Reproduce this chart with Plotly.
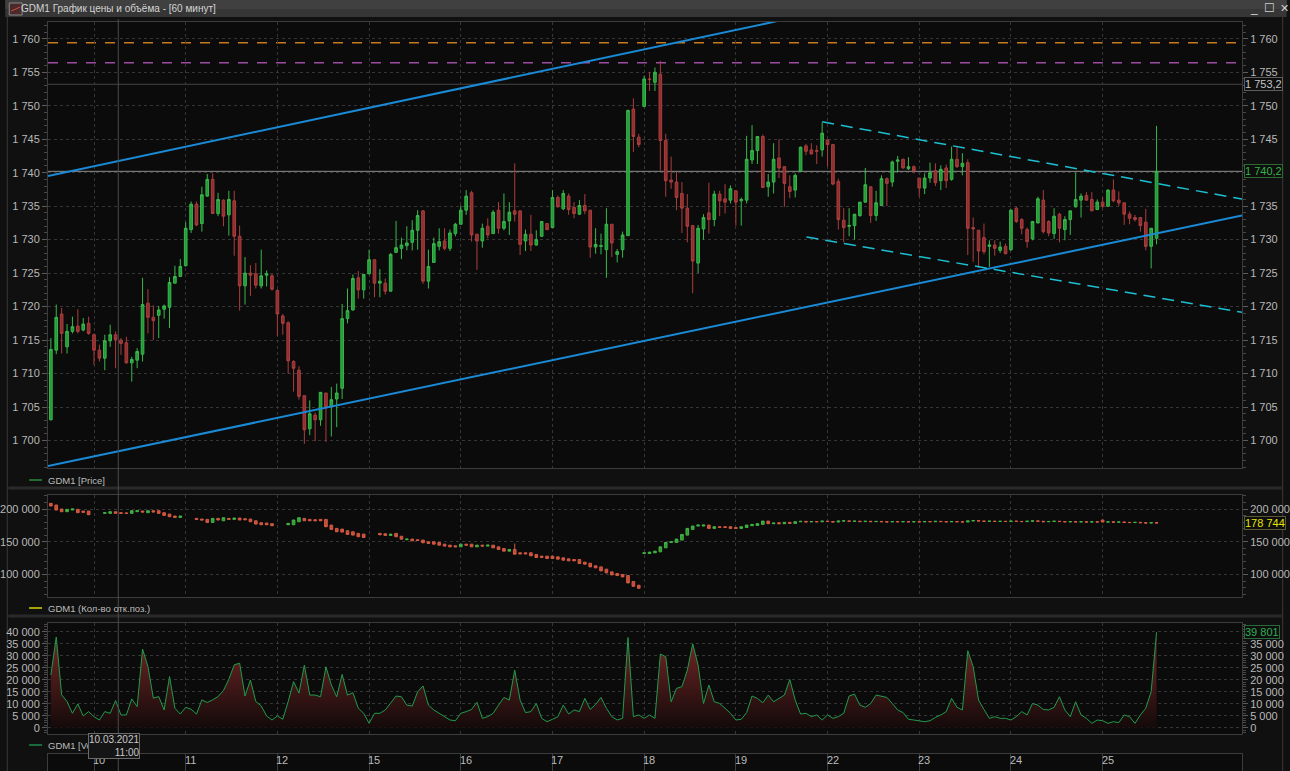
import plotly.graph_objects as go

# ======================= DATA =======================
# trading days shown (first one only partially visible) and hourly candles per day
day_labels = ["9", "10", "11", "12", "15", "16", "17", "18", "19", "22", "23", "24", "25"]
day_counts = [8, 17, 17, 17, 17, 17, 17, 17, 17, 17, 17, 17, 11]

price_open = [
    1703.1, 1713.5, 1718.9, 1714.0, 1716.3, 1717.1, 1716.5, 1717.5,
    1715.8, 1713.5, 1712.3, 1714.9, 1715.8, 1715.0, 1714.6, 1711.6, 1712.0, 1712.9, 1720.5, 1718.4, 1718.7, 1719.6, 1719.9, 1723.5, 1724.5,
    1726.1, 1731.5, 1735.3, 1732.4, 1736.5, 1739.0, 1733.9, 1735.9, 1733.7, 1735.8, 1730.5, 1723.1, 1725.0, 1724.9, 1723.1, 1724.7, 1724.6,
    1722.4, 1718.6, 1717.6, 1711.8, 1710.5, 1706.7, 1701.75, 1703.8, 1703.1, 1707.1, 1705.1, 1706.2, 1707.8, 1718.2, 1719.5, 1724.3, 1722.5,
    1724.9, 1727.0, 1723.5, 1723.5, 1722.3, 1728.1, 1728.7, 1729.1, 1729.6, 1731.4, 1734.3, 1723.8, 1726.6, 1729.0, 1729.8, 1728.7, 1730.9,
    1732.3, 1734.4, 1737.0, 1730.8, 1729.8, 1732.0, 1730.9, 1734.4, 1731.7, 1732.8, 1734.3, 1734.3, 1729.8, 1730.8, 1729.2, 1730.5, 1732.4,
    1731.8, 1736.3, 1734.6, 1736.5, 1734.8, 1733.8, 1735.1, 1734.4, 1728.9, 1729.0, 1728.5, 1732.3, 1727.8, 1728.5, 1730.6, 1749.5, 1745.3,
    1749.9, 1754.0, 1753.5, 1754.7, 1744.8, 1738.9, 1738.6, 1736.9, 1734.7, 1732.1, 1726.5, 1731.6, 1734.0, 1733.0, 1736.8, 1736.1, 1735.9,
    1737.3, 1735.8, 1735.9, 1741.9, 1743.3, 1745.4, 1737.9, 1738.6, 1742.2, 1740.9, 1737.9, 1737.4, 1740.2, 1744.0, 1743.4, 1743.3, 1743.4,
    1744.9, 1744.2, 1738.7, 1732.9, 1732.0, 1732.1, 1733.6, 1735.6, 1737.9, 1733.6, 1735.1, 1739.1, 1738.6, 1741.7, 1742.0, 1740.6, 1740.9,
    1739.2, 1737.7, 1739.2, 1740.3, 1738.8, 1740.7, 1739.0, 1742.0, 1740.9, 1741.5, 1731.8, 1731.4, 1730.3, 1729.0, 1729.2, 1728.4, 1729.0,
    1728.5, 1734.7, 1733.0, 1731.5, 1730.1, 1732.5, 1735.9, 1732.7, 1730.9, 1733.8, 1731.5, 1733.0, 1734.9, 1735.9, 1736.6, 1736.0, 1734.5,
    1735.6, 1735.0, 1737.4, 1735.9, 1735.5, 1733.8, 1733.3, 1733.3, 1732.6, 1729.0, 1730.2,
]
price_high = [
    1715.3, 1720.3, 1719.8, 1717.4, 1718.5, 1719.6, 1718.3, 1718.5,
    1716.0, 1714.3, 1715.8, 1717.3, 1716.3, 1715.3, 1715.5, 1712.5, 1713.8, 1724.3, 1722.6, 1720.2, 1720.1, 1720.3, 1724.4, 1726.1, 1727.1,
    1732.6, 1735.7, 1735.7, 1737.9, 1739.8, 1739.9, 1737.0, 1736.0, 1737.3, 1737.3, 1732.1, 1727.4, 1726.2, 1726.5, 1728.5, 1725.4, 1724.9,
    1722.6, 1718.9, 1717.8, 1712.0, 1711.1, 1706.7, 1706.0, 1704.2, 1707.2, 1707.1, 1708.0, 1708.5, 1720.4, 1722.7, 1724.8, 1725.3, 1724.9,
    1728.5, 1727.0, 1725.6, 1724.2, 1728.0, 1732.8, 1730.3, 1732.0, 1732.9, 1734.4, 1734.4, 1728.5, 1730.3, 1731.7, 1731.7, 1731.5, 1732.5,
    1735.1, 1737.4, 1737.3, 1730.9, 1732.4, 1733.2, 1734.4, 1735.6, 1736.9, 1735.6, 1741.4, 1734.3, 1731.5, 1733.7, 1731.4, 1732.8, 1732.5,
    1737.4, 1736.6, 1737.4, 1736.9, 1735.6, 1735.9, 1736.8, 1734.4, 1731.7, 1730.9, 1734.7, 1732.3, 1728.6, 1731.2, 1749.4, 1751.1, 1745.8,
    1754.5, 1755.0, 1755.7, 1756.7, 1745.8, 1742.4, 1740.1, 1738.6, 1736.8, 1732.1, 1732.2, 1733.8, 1738.5, 1737.3, 1737.3, 1738.3, 1738.1,
    1737.3, 1736.3, 1745.5, 1747.1, 1745.4, 1745.7, 1739.8, 1744.4, 1745.0, 1740.9, 1739.6, 1739.9, 1743.9, 1744.3, 1744.4, 1744.1, 1747.5,
    1744.9, 1744.3, 1739.1, 1734.7, 1734.7, 1733.8, 1735.6, 1740.7, 1737.9, 1737.3, 1739.6, 1739.3, 1741.8, 1742.5, 1742.1, 1742.3, 1741.1,
    1739.2, 1739.9, 1741.5, 1741.4, 1741.1, 1741.2, 1743.9, 1744.0, 1742.9, 1742.0, 1733.3, 1731.4, 1732.4, 1729.9, 1729.9, 1729.7, 1729.4,
    1734.5, 1734.9, 1733.2, 1731.8, 1732.8, 1736.4, 1737.4, 1732.9, 1734.7, 1734.0, 1733.5, 1734.3, 1740.0, 1736.9, 1737.1, 1737.1, 1736.0,
    1736.3, 1737.5, 1739.0, 1737.2, 1735.5, 1734.2, 1733.7, 1733.3, 1734.6, 1731.7, 1747.0,
]
price_low = [
    1703.0, 1712.9, 1713.0, 1713.0, 1716.0, 1716.0, 1716.3, 1715.8,
    1711.3, 1711.8, 1710.5, 1714.0, 1710.8, 1712.8, 1711.5, 1708.8, 1710.8, 1711.8, 1716.0, 1715.0, 1715.3, 1718.2, 1716.8, 1723.5, 1724.5,
    1726.0, 1731.0, 1732.0, 1731.2, 1736.4, 1733.9, 1733.5, 1732.0, 1730.6, 1727.6, 1719.4, 1720.3, 1721.6, 1722.7, 1722.7, 1723.0, 1722.4,
    1715.6, 1715.8, 1710.0, 1707.3, 1706.1, 1699.5, 1700.8, 1699.9, 1702.2, 1699.8, 1700.6, 1702.0, 1706.2, 1717.5, 1719.4, 1721.2, 1721.2,
    1724.8, 1721.4, 1721.4, 1721.8, 1722.3, 1728.0, 1727.1, 1728.4, 1728.4, 1728.5, 1723.4, 1722.7, 1726.6, 1728.4, 1728.4, 1728.3, 1730.5,
    1732.3, 1733.7, 1729.7, 1725.5, 1728.8, 1730.2, 1730.9, 1730.9, 1731.4, 1730.7, 1732.7, 1727.7, 1728.3, 1728.3, 1729.1, 1730.4, 1731.4,
    1731.8, 1734.8, 1734.4, 1733.7, 1733.2, 1733.7, 1733.8, 1727.3, 1727.9, 1727.8, 1724.3, 1727.4, 1726.6, 1727.3, 1730.6, 1743.1, 1743.8,
    1749.9, 1752.2, 1752.2, 1740.3, 1736.4, 1737.6, 1734.4, 1731.0, 1729.6, 1722.0, 1725.0, 1730.0, 1730.9, 1732.0, 1733.5, 1733.9, 1735.4,
    1732.1, 1732.1, 1735.4, 1741.3, 1741.3, 1737.7, 1736.4, 1736.9, 1739.2, 1734.9, 1736.2, 1736.3, 1740.2, 1742.6, 1742.7, 1741.3, 1742.4,
    1740.9, 1738.1, 1731.5, 1729.6, 1730.5, 1730.0, 1733.4, 1735.5, 1732.5, 1732.8, 1735.0, 1735.0, 1737.9, 1740.0, 1740.6, 1740.4, 1739.9,
    1736.4, 1736.8, 1738.5, 1738.0, 1737.4, 1737.7, 1738.8, 1740.7, 1739.6, 1727.7, 1726.7, 1725.8, 1727.8, 1725.9, 1727.6, 1728.0, 1727.8,
    1728.3, 1732.5, 1730.8, 1728.8, 1729.9, 1732.4, 1730.9, 1730.5, 1730.1, 1729.6, 1729.9, 1730.7, 1734.8, 1733.3, 1735.8, 1734.3, 1734.4,
    1734.7, 1734.9, 1735.6, 1735.0, 1732.2, 1732.3, 1732.7, 1731.2, 1728.4, 1725.7, 1729.3,
]
price_close = [
    1713.6, 1718.4, 1716.0, 1716.3, 1717.0, 1716.3, 1717.4, 1716.0,
    1713.5, 1712.3, 1714.9, 1715.8, 1715.1, 1714.5, 1711.6, 1712.1, 1713.3, 1720.3, 1718.4, 1717.9, 1719.5, 1720.1, 1723.6, 1724.5, 1726.0,
    1731.7, 1735.3, 1732.2, 1736.7, 1739.0, 1733.9, 1736.0, 1733.5, 1736.0, 1730.5, 1723.1, 1725.0, 1724.7, 1723.2, 1724.6, 1724.9, 1722.6,
    1718.9, 1717.5, 1711.9, 1710.8, 1706.6, 1701.6, 1704.0, 1703.1, 1707.2, 1705.0, 1706.1, 1707.1, 1718.2, 1719.4, 1724.2, 1722.5, 1724.8,
    1727.0, 1723.5, 1723.8, 1722.3, 1727.8, 1728.8, 1729.2, 1729.5, 1731.4, 1733.6, 1723.8, 1726.0, 1729.4, 1729.7, 1728.7, 1731.0, 1732.3,
    1734.4, 1736.5, 1730.7, 1729.8, 1731.7, 1730.7, 1734.1, 1731.7, 1732.7, 1734.1, 1733.8, 1729.3, 1730.8, 1729.2, 1730.0, 1732.7, 1731.5,
    1736.3, 1734.9, 1736.9, 1734.5, 1733.9, 1735.1, 1734.3, 1728.9, 1729.3, 1729.1, 1732.3, 1729.5, 1728.2, 1730.7, 1749.3, 1745.4, 1744.2,
    1754.0, 1753.9, 1755.0, 1744.8, 1738.8, 1738.6, 1736.3, 1734.7, 1732.0, 1726.8, 1731.7, 1733.3, 1733.0, 1736.8, 1735.8, 1735.6, 1737.6,
    1735.6, 1736.0, 1742.0, 1743.3, 1745.4, 1737.8, 1738.6, 1742.0, 1740.7, 1738.4, 1737.2, 1739.6, 1743.8, 1743.2, 1742.8, 1743.2, 1745.9,
    1744.2, 1738.3, 1733.0, 1731.8, 1732.1, 1733.8, 1735.6, 1738.2, 1733.6, 1735.5, 1739.1, 1738.4, 1741.6, 1741.9, 1740.7, 1740.9, 1740.3,
    1737.7, 1739.2, 1740.0, 1738.5, 1740.5, 1738.8, 1742.0, 1740.9, 1741.4, 1731.7, 1731.6, 1728.3, 1728.2, 1729.2, 1728.7, 1728.9, 1727.9,
    1734.4, 1732.7, 1731.7, 1729.7, 1732.7, 1736.1, 1731.2, 1731.0, 1733.5, 1731.7, 1733.0, 1734.3, 1736.0, 1736.5, 1735.9, 1734.3, 1735.6,
    1735.0, 1737.4, 1735.8, 1735.5, 1733.8, 1733.2, 1733.0, 1732.1, 1729.0, 1731.7, 1740.2,
]

# open interest (thousands of contracts); None = no value for that hour
oi_open_k = [
    208.7, 206.1, 200.0, 195.9, 198.5, 199.5, 196.9, 196.9,
    None, None, 193.4, 193.4, 195.9, 194.4, 194.0, 193.4, 196.0, 197.0, 194.4, 197.4, 197.4, 194.4, 192.3, 189.3, 187.2,
    None, None, 185.7, 184.7, 184.2, 179.6, 185.7, 182.1, 185.7, 184.2, 186.2, 185.2, 184.7, 182.1, 179.1, 178.6, 177.6,
    None, None, 176.0, 176.0, 180.6, 185.7, 184.2, 183.7, 184.2, 184.2, 175.5, 170.4, 169.4, 166.8, 165.3, 162.8, 161.7,
    None, None, 162.8, 162.2, 159.7, 162.8, 158.5, 153.1, 154.1, 153.1, 152.6, 150.0, 150.0, 149.0, 146.4, 144.9, 143.9,
    142.3, 146.4, 146.4, 142.3, 144.9, 143.4, 144.9, 142.3, 139.8, 135.7, 138.3, 133.2, 133.2, 133.2, 130.6, 128.1, 128.1,
    128.1, 127.0, 125.5, 124.0, 123.0, 123.0, 118.9, 117.3, 113.3, 111.7, 108.2, 104.1, 101.5, 100.0, 98.5, 89.3, 83.7,
    132.1, 132.1, 133.2, 134.7, 140.8, 149.0, 149.0, 152.6, 160.2, 168.9, 174.0, 174.0, 175.5, 170.4, 173.0, 173.0, 173.0,
    171.9, 170.4, 171.9, 174.5, 175.0, 176.5, 181.6, 177.6, 179.1, 177.6, 179.6, 178.1, 180.6, 181.2, 180.3, 181.0, 180.5,
    181.5, 180.9, 180.2, 181.6, 181.9, 181.2, 181.5, 180.8, 181.3, 180.7, 181.1, 180.6, 180.3, 180.9, 180.5, 180.8, 180.4,
    180.7, 180.3, 181.0, 180.6, 181.2, 180.8, 180.4, 181.0, 180.5, 180.2, 181.8, 182.3, 181.7, 181.2, 181.5, 181.0, 181.3,
    180.9, 181.6, 181.1, 180.8, 181.4, 181.9, 181.3, 180.6, 181.0, 181.4, 180.9, 180.4, 180.8, 180.3, 180.6, 180.1, 180.5,
    183.2, 180.1, 180.4, 179.9, 180.2, 179.6, 179.3, 179.7, 179.1, 178.6, 179.2,
]
oi_close_k = [
    204.6, 198.5, 195.9, 199.5, 200.0, 194.4, 194.9, 191.3,
    None, None, 194.4, 195.9, 193.4, 193.4, 193.4, 197.4, 197.4, 195.4, 197.4, 195.4, 193.4, 190.3, 188.3, 187.2, 189.3,
    None, None, 184.2, 183.2, 179.6, 185.7, 183.2, 186.7, 184.2, 186.2, 183.2, 183.7, 180.6, 177.0, 176.0, 176.0, 174.5,
    None, None, 178.1, 183.2, 186.7, 182.1, 182.1, 182.1, 182.1, 173.0, 168.9, 165.3, 164.8, 161.2, 160.2, 157.7, 156.6,
    None, None, 160.7, 159.7, 161.7, 157.7, 154.0, 154.1, 151.5, 152.0, 148.5, 147.4, 146.4, 144.9, 143.4, 142.3, 142.3,
    146.4, 144.9, 142.3, 144.9, 143.4, 144.9, 140.8, 138.3, 135.7, 138.3, 131.1, 131.6, 131.6, 128.6, 126.0, 126.0, 124.5,
    124.5, 123.5, 121.9, 120.9, 120.9, 116.8, 115.8, 111.7, 110.2, 105.6, 102.6, 99.5, 98.5, 96.4, 87.2, 82.1, 79.1,
    133.2, 134.2, 135.7, 142.3, 149.0, 150.0, 154.1, 161.2, 170.4, 174.0, 175.5, 175.5, 170.4, 173.0, 171.9, 171.9, 170.4,
    170.4, 173.0, 175.5, 176.5, 177.6, 181.6, 177.6, 178.6, 177.6, 179.6, 178.1, 180.6, 181.2, 180.3, 181.0, 180.5, 181.5,
    180.9, 180.2, 181.6, 181.9, 181.2, 181.5, 180.8, 181.3, 180.7, 181.1, 180.6, 180.3, 180.9, 180.5, 180.8, 180.4, 180.7,
    180.3, 181.0, 180.6, 181.2, 180.8, 180.4, 181.0, 180.5, 180.2, 181.8, 182.3, 181.7, 181.2, 181.5, 181.0, 181.3, 180.9,
    181.6, 181.1, 180.8, 181.4, 181.9, 181.3, 180.6, 181.0, 181.4, 180.9, 180.4, 180.8, 180.3, 180.6, 180.1, 180.5, 180.2,
    180.1, 180.4, 179.9, 180.2, 179.6, 179.3, 179.7, 179.1, 178.6, 179.2, 178.744,
]
oi_wick_high_k = {86: 147.4}

# traded volume per hour (thousands of contracts)
volume_k = [
    22.0, 37.8, 13.7, 10.9, 6.0, 9.9, 4.9, 6.7,
    4.6, 3.2, 6.7, 6.0, 11.3, 5.3, 5.3, 12.0, 8.8, 32.8, 25.5, 12.3, 13.0, 7.4, 21.3, 8.1, 5.7,
    8.5, 7.7, 5.7, 11.6, 10.5, 11.6, 13.0, 15.5, 20.2, 26.2, 26.9, 13.2, 19.9, 10.9, 9.1, 4.9, 3.2,
    4.9, 3.5, 10.9, 19.2, 14.4, 26.1, 13.6, 13.6, 12.9, 25.4, 17.8, 12.9, 22.2, 13.6, 14.6, 8.1, 6.0,
    1.8, 6.0, 6.0, 7.4, 10.1, 13.2, 12.9, 9.4, 9.0, 15.0, 17.4, 9.4, 7.4, 6.0, 4.6, 3.2, 2.9,
    6.0, 6.7, 7.6, 10.6, 3.9, 4.6, 6.0, 9.4, 12.6, 11.5, 24.0, 11.5, 6.3, 6.7, 10.1, 3.9, 2.5,
    3.5, 4.6, 9.4, 5.7, 7.4, 6.7, 12.2, 7.6, 9.7, 12.6, 8.1, 4.6, 3.2, 3.9, 37.6, 4.6, 5.3,
    3.9, 5.3, 3.9, 30.7, 29.6, 10.8, 16.4, 17.1, 24.0, 34.9, 26.1, 10.1, 17.8, 10.8, 10.1, 8.1, 6.0,
    3.2, 3.5, 6.3, 13.2, 12.2, 10.4, 13.6, 10.8, 12.2, 13.6, 20.1, 11.5, 5.7, 6.0, 4.6, 5.3, 3.2,
    5.3, 3.9, 4.6, 6.0, 13.2, 14.0, 9.4, 8.5, 10.1, 13.6, 13.2, 12.6, 10.1, 7.4, 6.3, 3.5, 3.2,
    2.9, 2.5, 2.9, 4.3, 5.3, 6.7, 12.2, 8.5, 7.4, 32.1, 25.4, 11.5, 7.6, 3.9, 4.6, 3.9, 3.9,
    3.2, 4.6, 6.7, 5.3, 10.1, 9.4, 7.6, 7.4, 8.5, 12.9, 7.4, 4.6, 10.8, 5.3, 3.9, 1.8, 3.2,
    2.9, 1.8, 2.5, 2.1, 5.3, 4.6, 1.8, 5.3, 8.1, 15.0, 39.801,
]

# user-drawn lines on the price chart (candle index, price)
blue_upper_x = [-0.53, 134.5]
blue_upper_y = [1739.5, 1762.6]
blue_lower_x = [-0.53, 220.84]
blue_lower_y = [1696.2, 1733.6]
cyan_upper_x = [143.0, 220.84]
cyan_upper_y = [1747.6, 1736.05]
cyan_lower_x = [140.1, 220.84]
cyan_lower_y = [1730.4, 1719.15]
level_orange = 1759.4
level_purple = 1756.4
crosshair_price = 1753.2
crosshair_index = 12.5
crosshair_time = "10.03.2021<br>11:00"

# ======================= LAYOUT HELPERS =======================
W, H = 1290, 771
PL, PR = 43, 1245
X_RANGE = [-0.53, 220.84]
FONT = "Liberation Sans Narrow, Liberation Sans, Arial, sans-serif"
FONT_UI = "Liberation Sans, Arial, sans-serif"
TXT = "#b8b8b8"
GRID = "#363636"
FRAME = "#3c3c3c"


def px(x):
    return (x - PL) / (PR - PL)


def py(y):
    return 1 - y / H


def fmt(v, dec=0):
    s = f"{v:,.{dec}f}"
    return s.replace(",", " ").replace(".", ",")


n = len(price_open)
idx = list(range(n))
day_start = []
s = 0
for c in day_counts:
    day_start.append(s)
    s += c

# ======================= TRACES =======================
traces = []
traces.append(go.Candlestick(
    x=idx, open=price_open, high=price_high, low=price_low, close=price_close,
    xaxis="x", yaxis="y", whiskerwidth=0,
    increasing=dict(line=dict(color="#3ab84c", width=1), fillcolor="#229a38"),
    decreasing=dict(line=dict(color="#ab3e3e", width=1), fillcolor="#8e2e2e"),
    hoverinfo="none", showlegend=False))

for xs, ys, col, w, dash in [
    (blue_upper_x, blue_upper_y, "#1a8ad6", 2, "solid"),
    (blue_lower_x, blue_lower_y, "#1a8ad6", 2, "solid"),
    (cyan_upper_x, cyan_upper_y, "#1cc0d2", 1.5, "12px,7px"),
    (cyan_lower_x, cyan_lower_y, "#1cc0d2", 1.5, "12px,7px"),
]:
    traces.append(go.Scatter(x=xs, y=ys, mode="lines", xaxis="x", yaxis="y",
                             line=dict(color=col, width=w, dash=dash),
                             hoverinfo="skip", showlegend=False))

oi_x, oi_o, oi_h, oi_l, oi_c = [], [], [], [], []
for i in idx:
    if oi_open_k[i] is None:
        continue
    o, c = oi_open_k[i] * 1000, oi_close_k[i] * 1000
    oi_x.append(i)
    oi_o.append(o)
    oi_c.append(c)
    oi_h.append(max(o, c, oi_wick_high_k.get(i, 0) * 1000))
    oi_l.append(min(o, c))
traces.append(go.Candlestick(
    x=oi_x, open=oi_o, high=oi_h, low=oi_l, close=oi_c,
    xaxis="x2", yaxis="y2", whiskerwidth=0,
    increasing=dict(line=dict(color="#44b244", width=1), fillcolor="#2e9a30"),
    decreasing=dict(line=dict(color="#d45a42", width=1), fillcolor="#c24a36"),
    hoverinfo="none", showlegend=False))

vol = [v * 1000 for v in volume_k]
traces.append(go.Scatter(
    x=idx, y=vol, mode="lines", xaxis="x3", yaxis="y3",
    line=dict(color="#1e9c4c", width=1),
    fill="tozeroy",
    fillgradient=dict(type="vertical", colorscale=[[0, "#140a0a"], [1, "#7a2828"]],
                      start=0, stop=40000),
    hoverinfo="skip", showlegend=False))

# invisible anchors for right-side axes and time band
for xa, ya, yv in [("x", "y5", 1730), ("x2", "y6", 150000), ("x3", "y7", 20000), ("x4", "y4", 0.5)]:
    traces.append(go.Scatter(x=[0], y=[yv], mode="markers", xaxis=xa, yaxis=ya,
                             marker=dict(opacity=0, size=1), hoverinfo="skip", showlegend=False))

fig = go.Figure(data=traces)

# ======================= AXES =======================
D_PRICE = [py(468), py(22)]
D_OI = [py(597), py(495)]
D_VOL = [py(734), py(623)]
D_BAND = [0, py(754)]
R_PRICE = [1695.9, 1762.5]
R_OI = [65750, 221400]
R_VOL = [-2630, 43640]


def xax(anchor):
    return dict(domain=[0, 1], anchor=anchor, range=X_RANGE, tickvals=day_start[1:],
                showticklabels=False, ticks="", showgrid=True, gridcolor=GRID,
                griddash="3px,3px", gridwidth=1, zeroline=False, showline=True,
                linecolor=FRAME, mirror=True, fixedrange=True,
                rangeslider=dict(visible=False))


def yax(domain, rng, dtick, minor, side, anchor, overlay=None, tick0=0, skip=None):
    d = dict(range=rng, ticks="outside", tickformat=",d",
             ticklen=5, tickcolor="#5a5a5a", tickwidth=1,
             minor=dict(ticks="outside", ticklen=3, dtick=minor, tick0=tick0,
                        tickcolor="#474747", showgrid=False),
             tickfont=dict(family=FONT, size=11, color=TXT), zeroline=False,
             side=side, anchor=anchor, fixedrange=True)
    vals = []
    v = tick0
    while v <= rng[1]:
        if v >= rng[0] and (skip is None or abs(v - skip) > 1e-9):
            vals.append(v)
        v += dtick
    d.update(tickmode="array", tickvals=vals, ticktext=[fmt(t) for t in vals])
    if overlay is None:
        d.update(domain=domain, showgrid=True, gridcolor=GRID, griddash="3px,3px",
                 showline=True, linecolor=FRAME, mirror=True)
    else:
        d.update(overlaying=overlay, showgrid=False, showline=False)
    return d


band_x = xax("y4")
band_x.update(griddash="solid", gridcolor="#3c3c3c")

fig.update_layout(
    width=W, height=H, autosize=False,
    margin=dict(l=PL, r=W - PR, t=0, b=0, pad=0),
    paper_bgcolor="#101010", plot_bgcolor="#0b0b0b",
    separators=", ", hovermode=False, showlegend=False,
    font=dict(family=FONT, size=11, color=TXT),
    xaxis=xax("y"), xaxis2=xax("y2"), xaxis3=xax("y3"), xaxis4=band_x,
    yaxis=yax(D_PRICE, R_PRICE, 5, 1, "left", "x", tick0=1700),
    yaxis5=yax(D_PRICE, R_PRICE, 5, 1, "right", "x", overlay="y", tick0=1700,
               skip=round(price_close[-1] / 5) * 5),
    yaxis2=yax(D_OI, R_OI, 50000, 10000, "left", "x2", tick0=100000),
    yaxis6=yax(D_OI, R_OI, 50000, 10000, "right", "x2", overlay="y2", tick0=100000),
    yaxis3=yax(D_VOL, R_VOL, 5000, 1000, "left", "x3"),
    yaxis7=yax(D_VOL, R_VOL, 5000, 1000, "right", "x3", overlay="y3",
               skip=round(volume_k[-1] / 5) * 5000),
    yaxis4=dict(domain=D_BAND, anchor="x4", range=[0, 1], showticklabels=False, ticks="",
                showgrid=False, zeroline=False, showline=True, linecolor=FRAME,
                mirror=True, fixedrange=True),
)

# ======================= SHAPES =======================
shapes = []
# title bar
shapes.append(dict(type="rect", xref="paper", yref="paper", x0=px(0), x1=px(W),
                   y0=py(17), y1=py(0), fillcolor="#363636", line=dict(width=0), layer="below"))
shapes.append(dict(type="rect", xref="paper", yref="paper", x0=px(0), x1=px(W),
                   y0=py(9), y1=py(0), fillcolor="#404040", line=dict(width=0), layer="below"))
shapes.append(dict(type="rect", xref="paper", yref="paper", x0=px(4), x1=px(17),
                   y0=py(15), y1=py(3), fillcolor="#4a2a2a", line=dict(color="#8a8a8a", width=1),
                   layer="above"))
shapes.append(dict(type="line", xref="paper", yref="paper", x0=px(6), x1=px(15),
                   y0=py(11), y1=py(7), line=dict(color="#d05040", width=1), layer="above"))
# window frame
for xx in (2, 1286):
    shapes.append(dict(type="line", xref="paper", yref="paper", x0=px(xx), x1=px(xx),
                       y0=0, y1=py(17), line=dict(color="#3a3a3a", width=1), layer="below"))
# panel separators
for y_top in (486.5, 614.5):
    shapes.append(dict(type="rect", xref="paper", yref="paper", x0=px(3), x1=px(1285),
                       y0=py(y_top + 3), y1=py(y_top),
                       fillcolor="#2a2a2a", line=dict(width=0), layer="below"))
# horizontal levels on price panel
for lvl, col, dash, wd in [(level_orange, "#c87a1e", "10px,9px", 1.5),
                           (level_purple, "#9c4ca2", "10px,9px", 1.5),
                           (crosshair_price, "#464646", "solid", 1),
                           (price_close[-1], "#8e8e8e", "solid", 1)]:
    shapes.append(dict(type="line", xref="x domain", yref="y", x0=0, x1=1, y0=lvl, y1=lvl,
                       line=dict(color=col, width=wd, dash=dash), layer="below"))
# crosshair vertical
shapes.append(dict(type="line", xref="x", yref="paper", x0=crosshair_index, x1=crosshair_index,
                   y0=0, y1=py(19), line=dict(color="#4c4c4c", width=1), layer="above"))
# legend markers
for yy, col in [(480, "#2a8a3a"), (608, "#d6d600"), (745, "#1e8a4a")]:
    shapes.append(dict(type="line", xref="paper", yref="paper", x0=px(24), x1=px(37),
                       y0=py(yy), y1=py(yy), line=dict(color=col, width=1.5), layer="above"))
fig.update_layout(shapes=shapes)

# ======================= ANNOTATIONS =======================
ann = []
ann.append(dict(text="GDM1 График цены и объёма - [60 минут]", xref="paper", yref="paper",
                x=px(14), y=py(8.5), xanchor="left", yanchor="middle", showarrow=False,
                font=dict(family=FONT_UI, size=10, color="#d4d4d4")))
for xx, t, sz in [(1257, "_", 12), (1273, "☐", 12), (1288, "✕", 11)]:
    ann.append(dict(text=t, xref="paper", yref="paper", x=px(xx), y=py(8), xanchor="center",
                    yanchor="middle", showarrow=False, font=dict(family=FONT_UI, size=sz, color="#cfcfcf")))
for yy, t in [(480, "GDM1 [Price]"), (608, "GDM1 (Кол-во отк.поз.)"), (745, "GDM1 [Vo")]:
    ann.append(dict(text=t, xref="paper", yref="paper", x=px(41), y=py(yy), xanchor="left",
                    yanchor="middle", showarrow=False, font=dict(family=FONT_UI, size=9.5, color="#bcbcbc")))
# time axis labels
for lbl, st in zip(day_labels[1:], day_start[1:]):
    ann.append(dict(text=lbl, xref="x4", yref="paper", x=st, y=py(760), xanchor="left",
                    yanchor="middle", xshift=-3, showarrow=False,
                    font=dict(family=FONT_UI, size=11, color="#bcbcbc")))
# value boxes on the right
for yref, val, txt, fc, bc in [
    ("y", crosshair_price, fmt(crosshair_price, 1), "#c4c4c4", "#5e5e5e"),
    ("y", price_close[-1], fmt(price_close[-1], 1), "#36b34a", "#2c6a32"),
    ("y2", oi_close_k[-1] * 1000, fmt(oi_close_k[-1] * 1000), "#e6e600", "#5a5a3a"),
    ("y3", volume_k[-1] * 1000, fmt(volume_k[-1] * 1000), "#2fae55", "#2a6a3a"),
]:
    ann.append(dict(text=txt, xref="paper", yref=yref, x=px(1247), y=val, xanchor="left",
                    yanchor="middle", showarrow=False, bgcolor="#0e0e0e", bordercolor=bc,
                    borderwidth=1, borderpad=0, font=dict(family=FONT, size=11, color=fc)))
# crosshair time tooltip
ann.append(dict(text=crosshair_time, xref="paper", yref="paper", x=px(83), y=py(745.5),
                xanchor="left", yanchor="middle", align="right", showarrow=False,
                bgcolor="#151515", bordercolor="#6a6a6a", borderwidth=1, borderpad=0,
                font=dict(family=FONT, size=10, color="#c8c8c8")))
fig.update_layout(annotations=ann)

fig.write_html("out.html")
